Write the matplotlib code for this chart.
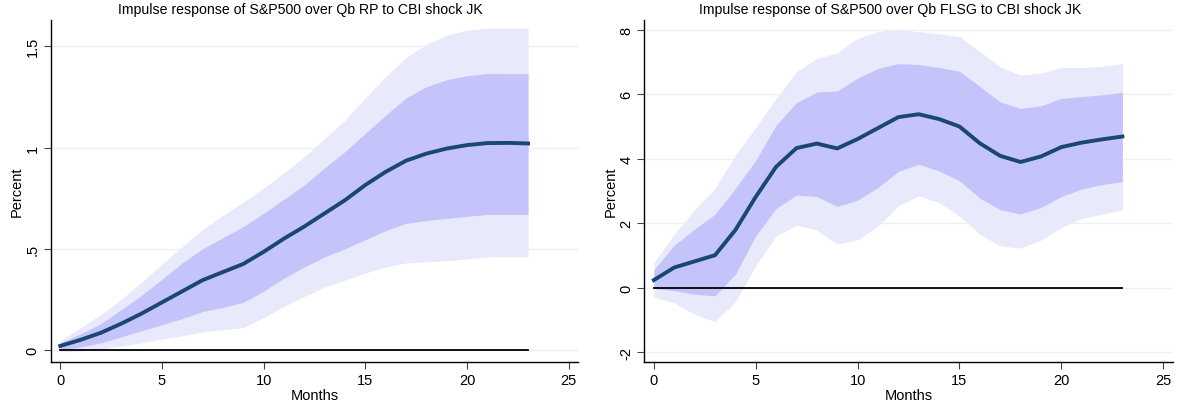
import matplotlib
matplotlib.use("Agg")
import matplotlib.pyplot as plt
import numpy as np

months = list(range(24))

# Left panel: S&P500 over Qb RP
rp_irf = [0.02, 0.05, 0.085, 0.13, 0.18, 0.235, 0.29, 0.345, 0.385, 0.425, 0.485, 0.55,
          0.61, 0.675, 0.74, 0.815, 0.88, 0.935, 0.97, 0.995, 1.012, 1.022, 1.023, 1.02]
rp_in_hi = [0.035, 0.08, 0.13, 0.2, 0.27, 0.35, 0.43, 0.5, 0.555, 0.61, 0.675, 0.745,
            0.815, 0.9, 0.98, 1.07, 1.16, 1.245, 1.3, 1.335, 1.355, 1.365, 1.365, 1.365]
rp_in_lo = [0.0, 0.015, 0.035, 0.065, 0.095, 0.125, 0.155, 0.19, 0.21, 0.235, 0.29, 0.355,
            0.41, 0.46, 0.5, 0.545, 0.59, 0.625, 0.64, 0.65, 0.66, 0.67, 0.67, 0.67]
rp_out_hi = [0.045, 0.11, 0.175, 0.25, 0.335, 0.425, 0.51, 0.595, 0.665, 0.73, 0.8, 0.875,
             0.955, 1.045, 1.135, 1.245, 1.35, 1.445, 1.51, 1.555, 1.58, 1.59, 1.59, 1.59]
rp_out_lo = [-0.01, -0.005, 0.005, 0.02, 0.035, 0.055, 0.07, 0.09, 0.1, 0.11, 0.16, 0.215,
             0.265, 0.31, 0.345, 0.38, 0.41, 0.43, 0.435, 0.44, 0.45, 0.46, 0.46, 0.46]

# Right panel: S&P500 over Qb FLSG
fl_irf = [0.24, 0.63, 0.82, 1.01, 1.79, 2.82, 3.75, 4.33, 4.47, 4.32, 4.61, 4.95,
          5.29, 5.38, 5.23, 5.0, 4.48, 4.09, 3.90, 4.07, 4.36, 4.50, 4.60, 4.69]
fl_in_hi = [0.56, 1.32, 1.82, 2.28, 3.08, 3.95, 5.04, 5.74, 6.07, 6.1, 6.5, 6.8,
            6.95, 6.92, 6.83, 6.71, 6.24, 5.76, 5.56, 5.64, 5.87, 5.93, 5.98, 6.06]
fl_in_lo = [-0.02, -0.09, -0.2, -0.25, 0.42, 1.61, 2.46, 2.87, 2.83, 2.52, 2.72, 3.11,
            3.61, 3.83, 3.62, 3.32, 2.78, 2.42, 2.29, 2.49, 2.83, 3.06, 3.2, 3.29]
fl_out_hi = [0.78, 1.66, 2.42, 3.08, 4.11, 4.97, 5.87, 6.7, 7.11, 7.28, 7.73, 7.94,
             8.02, 7.94, 7.87, 7.79, 7.32, 6.85, 6.59, 6.65, 6.83, 6.83, 6.86, 6.95]
fl_out_lo = [-0.28, -0.47, -0.82, -1.05, -0.43, 0.68, 1.61, 1.94, 1.79, 1.36, 1.49, 1.92,
             2.54, 2.85, 2.64, 2.23, 1.66, 1.30, 1.23, 1.48, 1.87, 2.15, 2.28, 2.42]

titles = ["Impulse response of S&P500 over Qb RP to CBI shock JK",
          "Impulse response of S&P500 over Qb FLSG to CBI shock JK"]
x_ticks = [0, 5, 10, 15, 20, 25]
rp_yticks = [0, 0.5, 1, 1.5]
rp_ylabels = ["0", ".5", "1", "1.5"]
fl_yticks = [-2, 0, 2, 4, 6, 8]
fl_ylabels = ["-2", "0", "2", "4", "6", "8"]

plt.rcParams['font.family'] = ['Liberation Sans', 'DejaVu Sans']

W, H = 1183, 410
fig = plt.figure(figsize=(W / 100, H / 100), dpi=100)

def px_axes(x0, x1, ytop, ybot):
    return fig.add_axes([x0 / W, 1 - ybot / H, (x1 - x0) / W, (ybot - ytop) / H])

ax1 = px_axes(50.7, 578.3, 21, 362.7)
ax2 = px_axes(644.3, 1172.7, 21, 362.7)

outer_c = "#e9e9fc"
inner_c = "#c4c4fa"
line_c = "#1a476f"
grid_c = "#eaf2f3"

panels = [
    (ax1, rp_irf, rp_in_lo, rp_in_hi, rp_out_lo, rp_out_hi, rp_yticks, rp_ylabels, (-0.058, 1.63)),
    (ax2, fl_irf, fl_in_lo, fl_in_hi, fl_out_lo, fl_out_hi, fl_yticks, fl_ylabels, (-2.29, 8.30)),
]

title_x = [300, 890]
for i, (ax, irf, ilo, ihi, olo, ohi, yt, yl, ylim) in enumerate(panels):
    for y in yt:
        ax.axhline(y, color=grid_c, lw=1.0, zorder=0)
    ax.fill_between(months, olo, ohi, color=outer_c, lw=0, zorder=1)
    ax.fill_between(months, ilo, ihi, color=inner_c, lw=0, zorder=2)
    ax.plot([months[0], months[-1]], [0, 0], color="black", lw=1.3, zorder=3)
    ax.plot(months, irf, color=line_c, lw=2.8, zorder=4, solid_joinstyle="round")
    ax.set_xlim(-0.47, 25.47)
    ax.set_ylim(*ylim)
    ax.set_xticks(x_ticks)
    ax.set_xticklabels([str(t) for t in x_ticks], fontsize=10.5)
    ax.set_yticks(yt)
    ax.set_yticklabels(yl, fontsize=10.5, rotation=90, va="center")
    for s in ["top", "right"]:
        ax.spines[s].set_visible(False)
    for s in ["left", "bottom"]:
        ax.spines[s].set_linewidth(1.0)
        ax.spines[s].set_color("black")
    ax.tick_params(axis="both", direction="out", length=5, width=0.8, color="#444444", pad=3)
    ax.set_xlabel("Months", fontsize=10.5, labelpad=1)
    ax.set_ylabel("Percent", fontsize=10.5, labelpad=1)
    ax.set_facecolor("white")
    fig.text(title_x[i] / W, 1 - 10 / H, titles[i], ha="center", va="center", fontsize=10.2)

fig.savefig("out.png", dpi=100)
